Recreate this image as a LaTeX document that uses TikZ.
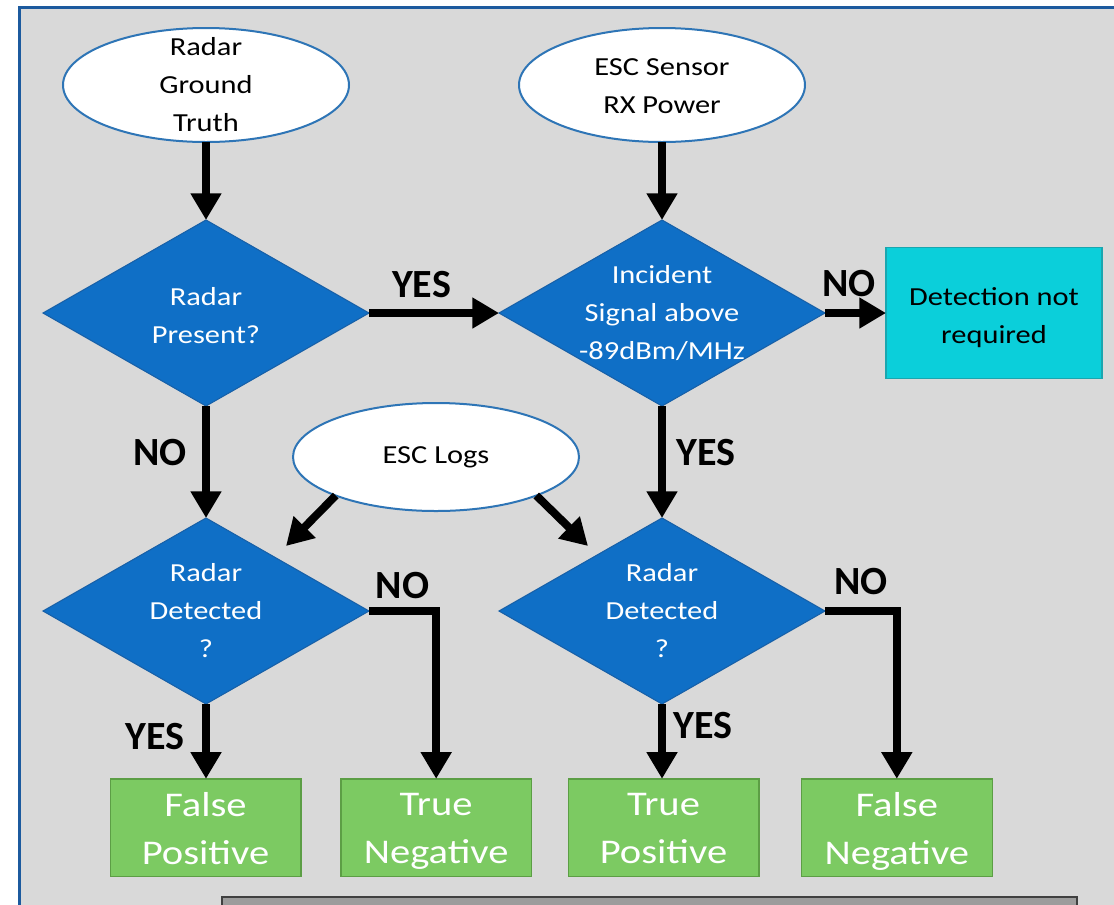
\documentclass[tikz,border=0pt]{standalone}
\usepackage{fontspec}
\setmainfont{Carlito}
\newfontfamily\widefont[FakeStretch=1.17]{Carlito}
\usetikzlibrary{positioning, arrows.meta, shapes.geometric}

\definecolor{panelgray}{HTML}{D9D9D9}
\definecolor{frameblue}{HTML}{1C5A9E}
\definecolor{ellipseblue}{HTML}{2E75B6}
\definecolor{diamondblue}{HTML}{0F6FC6}
\definecolor{diamondedge}{HTML}{1760A8}
\definecolor{outcomegreen}{HTML}{7CCA62}
\definecolor{greenedge}{HTML}{5C9E45}
\definecolor{skipcyan}{HTML}{0BCFDA}
\definecolor{skipedge}{HTML}{1AA6AF}
\definecolor{barfill}{HTML}{9C9C9C}
\definecolor{baredge}{HTML}{404040}

\begin{document}
\begin{tikzpicture}[
    x=0.75pt, y=-0.75pt,
    line width=0.8pt,
    terminal/.style={ellipse, draw=ellipseblue, line width=1.5pt, fill=white, inner sep=0pt, outer sep=0pt, minimum width=214.5pt, minimum height=85.5pt},
    decision/.style={diamond, draw=diamondedge, fill=diamondblue, inner sep=0pt, outer sep=0pt, minimum width=244.5pt, minimum height=139.5pt},
    shapetext/.style={align=center, inner sep=0pt, font=\widefont\fontsize{19.5}{28.5}\selectfont},
    outcome/.style={draw=greenedge, fill=outcomegreen, line width=1pt, outer sep=0pt, minimum width=143pt, minimum height=73pt, inner sep=0pt},
    outcometext/.style={align=center, inner sep=0pt, yshift=-6pt, text=white, font=\widefont\fontsize{26}{36}\selectfont, execute at begin node=\strut, execute at end node=\strut},
    endbox/.style={draw=skipedge, fill=skipcyan, line width=1pt, outer sep=0pt, inner sep=0pt, minimum width=162pt, minimum height=98pt},
    flow/.style={line width=6pt, -{Triangle[width=22pt, length=20pt]}},
    answer/.style={inner sep=0pt, font=\bfseries\fontsize{30}{36}\selectfont}
]
    \useasboundingbox (0,0) rectangle (1114,904);
    \clip (0,0) rectangle (1114,904);

    % panel
    \fill[panelgray] (19,7) rectangle (1130,920);
    \draw[frameblue, line width=2.25pt] (19,7) rectangle (1130,920);
    \draw[baredge, fill=barfill, line width=1pt] (222,897) rectangle (1077,930);

    % inputs
    \node[terminal, label={[shapetext]center:Radar\\Ground\\Truth}](ground_truth) at (206,85){};
    \node[terminal, label={[shapetext, yshift=-1pt]center:ESC Sensor\\RX Power}](rx_power) at (662,85){};
    \node[terminal, minimum height=81pt, label={[shapetext]center:ESC Logs}](esc_logs) at (436,457){};

    % decisions
    \node[decision, label={[shapetext, text=white, yshift=-2pt]center:Radar\\Present?}](present) at (206,313){};
    \node[decision, label={[shapetext, text=white]center:Incident\\Signal above\\-89dBm/MHz}](incident) at (662,313){};
    \node[decision, label={[shapetext, text=white]center:Radar\\Detected\\?}](detected_left) at (206,611){};
    \node[decision, label={[shapetext, text=white]center:Radar\\Detected\\?}](detected_right) at (662,611){};

    \node[endbox, right=45.75pt of incident, label={[shapetext, yshift=-3.5pt]center:Detection not\\required}](not_required){};

    % outcomes
    \node[outcome, label={[outcometext]center:False\\Positive}](false_positive) at (205.5,827.5){};
    \node[outcome, right=30pt of false_positive, label={[outcometext]center:True\\Negative}](true_negative){};
    \node[outcome, right=27.5pt of true_negative, label={[outcometext]center:True\\Positive}](true_positive){};
    \node[outcome, right=32pt of true_positive, label={[outcometext]center:False\\Negative}](false_negative){};

    \coordinate (logs_left_tip) at (286,546);
    \coordinate (logs_right_tip) at (588,546);

    \draw[flow](ground_truth.south) -- (present.north);
    \draw[flow](rx_power.south) -- (incident.north);

    \draw[flow](present.east) -- (incident.west) node[midway, answer, xshift=-9.4pt, yshift=21pt]{YES};
    \draw[flow](incident.east) -- (not_required.west) node[midway, answer, xshift=-4.9pt, yshift=22pt]{NO};

    \draw[flow](present.south) -- (detected_left.north) node[midway, answer, xshift=-34.5pt, yshift=6.75pt]{NO};
    \draw[flow](incident.south) -- (detected_right.north) node[midway, answer, xshift=33pt, yshift=6.75pt]{YES};

    \draw[flow](esc_logs.201) -- (logs_left_tip);
    \draw[flow](esc_logs.-21) -- (logs_right_tip);

    \draw[flow](detected_left.south) -- (detected_left.south |- false_positive.north) node[midway, answer, xshift=-38pt, yshift=3.4pt]{YES};
    \draw[flow](detected_left.east) -| (true_negative.north) node[pos=0.25, answer, yshift=19pt]{NO};

    \draw[flow](detected_right.south) -- (detected_right.south |- true_positive.north) node[midway, answer, xshift=31pt, yshift=12pt]{YES};
    \draw[flow](detected_right.east) -| (false_negative.north) node[pos=0.25, answer, yshift=21.75pt]{NO};
\end{tikzpicture}
\end{document}
